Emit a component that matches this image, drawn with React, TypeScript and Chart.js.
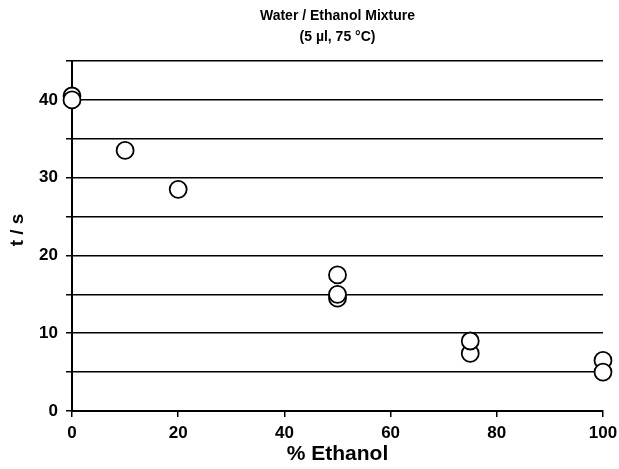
import React, { useEffect, useRef } from "react";
import { Chart, registerables } from "chart.js";

Chart.register(...registerables);

// Measured evaporation times for water / ethanol mixtures
const ethanolPercent = [0, 0, 10, 20, 50, 50, 50, 75, 75, 100, 100];
const timeSeconds = [40.5, 40, 33.5, 28.5, 17.5, 14.5, 15, 7.4, 9, 6.5, 5];

const titleLines = ["Water / Ethanol Mixture", "(5 µl, 75 °C)"];
const xAxisTitle = "% Ethanol";
const yAxisTitle = "t / s";

const W = 619;
const H = 469;
const AREA = { left: 72, right: 603, top: 61, bottom: 411 };
const FONT = "'Liberation Sans', Arial, Helvetica, sans-serif";

const textPlugin = {
  id: "customText",
  afterDraw(chart: any) {
    const ctx = chart.ctx as CanvasRenderingContext2D;
    const area = chart.chartArea;
    const cx = (area.left + area.right) / 2;
    ctx.save();
    ctx.fillStyle = "#000";
    ctx.textAlign = "center";
    ctx.textBaseline = "middle";
    ctx.font = `bold 14px ${FONT}`;
    ctx.fillText(titleLines[0], cx, 16);
    ctx.fillText(titleLines[1], cx, 37);
    ctx.font = `bold 21px ${FONT}`;
    ctx.fillText(xAxisTitle, cx, 454);
    ctx.font = `bold 19px ${FONT}`;
    ctx.translate(18, 230);
    ctx.rotate(-Math.PI / 2);
    ctx.fillText(yAxisTitle, 0, 0);
    ctx.restore();
  },
};

export default function App() {
  const ref = useRef<HTMLCanvasElement | null>(null);

  useEffect(() => {
    if (!ref.current) return;
    const points = ethanolPercent.map((x, i) => ({ x, y: timeSeconds[i] }));
    const chart = new Chart(ref.current, {
      type: "scatter",
      data: {
        datasets: [
          {
            data: points,
            pointStyle: "circle",
            pointRadius: 8.5,
            pointHoverRadius: 8.5,
            pointBackgroundColor: "#fff",
            pointBorderColor: "#000",
            pointBorderWidth: 1.8,
            clip: false as any,
          },
        ],
      },
      options: {
        responsive: false,
        animation: false,
        events: [],
        layout: {
          padding: { top: AREA.top, right: W - AREA.right, left: 0, bottom: 0 },
        },
        plugins: {
          legend: { display: false },
          tooltip: { enabled: false },
          title: { display: false },
        },
        scales: {
          x: {
            type: "linear",
            min: 0,
            max: 100,
            afterFit: (s: any) => {
              s.height = H - AREA.bottom;
              s.paddingLeft = 0;
              s.paddingRight = 0;
            },
            ticks: {
              stepSize: 20,
              color: "#000",
              padding: 6,
              font: { family: FONT, size: 17, weight: "bold" },
              maxRotation: 0,
            },
            grid: {
              drawOnChartArea: false,
              drawTicks: true,
              tickLength: 6,
              color: "#000",
              lineWidth: 1.5,
            },
            border: { display: true, color: "#000", width: 2 },
          },
          y: {
            type: "linear",
            min: 0,
            max: 45,
            afterFit: (s: any) => {
              s.width = AREA.left;
              s.paddingTop = 0;
              s.paddingBottom = 0;
            },
            ticks: {
              stepSize: 5,
              color: "#000",
              padding: 8,
              font: { family: FONT, size: 17, weight: "bold" },
              callback: (v: any) => (Number(v) % 10 === 0 ? String(v) : ""),
            },
            grid: {
              drawOnChartArea: true,
              drawTicks: true,
              tickLength: 6,
              color: "#000",
              lineWidth: 1.5,
            },
            border: { display: true, color: "#000", width: 2 },
          },
        },
      },
      plugins: [textPlugin],
    });
    return () => chart.destroy();
  }, []);

  return (
    <div
      style={{
        position: "fixed",
        left: 0,
        top: 0,
        width: W,
        height: H,
        background: "#fff",
      }}
    >
      <canvas ref={ref} width={W} height={H} style={{ display: "block" }} />
    </div>
  );
}
